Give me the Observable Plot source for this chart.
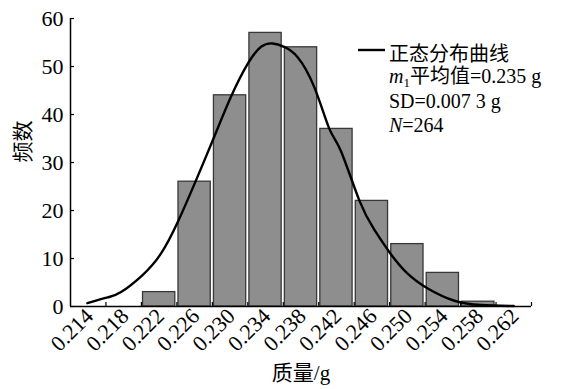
<!DOCTYPE html>
<html><head><meta charset="utf-8">
<script src="https://cdn.jsdelivr.net/npm/d3@7"></script>
<script src="https://cdn.jsdelivr.net/npm/@observablehq/plot@0.6"></script>
<style>
html,body{margin:0;padding:0;background:#fff}
#chart{width:561px;height:389px}
</style>
</head><body><div id="chart"></div>
<script>
// ---- data ----
const binStarts = [0.222, 0.226, 0.230, 0.234, 0.238, 0.242, 0.246, 0.250, 0.254, 0.258];
const binEnds   = [0.226, 0.230, 0.234, 0.238, 0.242, 0.246, 0.250, 0.254, 0.258, 0.262];
const counts    = [3, 26, 44, 57, 54, 37, 22, 13, 7, 1];

// normal distribution curve
const curveX = [0.2159, 0.2182, 0.2197, 0.2221, 0.2242, 0.2261, 0.2280, 0.2302, 0.2321, 0.2340, 0.2355, 0.2368, 0.2381, 0.2396, 0.2415, 0.2432, 0.2445, 0.2466, 0.2483, 0.2501, 0.2520, 0.2543, 0.2573, 0.2603, 0.2640];
const curveY = [0.7, 1.9, 3.0, 6.5, 11, 17.6, 25.6, 35.3, 43.7, 50.6, 54.1, 54.8, 54.1, 52, 45.7, 37, 32.4, 22, 15.9, 11, 6.9, 3.75, 1.2, 0.3, 0.1];

const xTickLabels = [0.214, 0.218, 0.222, 0.226, 0.230, 0.234, 0.238, 0.242, 0.246, 0.250, 0.254, 0.258, 0.262];
const xTickMarks  = [0.218, 0.222, 0.226, 0.230, 0.234, 0.238, 0.242, 0.246, 0.250, 0.254, 0.258, 0.262, 0.266];
const yTicks = [0, 10, 20, 30, 40, 50, 60];
const xDomain = [0.214, 0.266];
const yDomain = [0, 60];

const xTitle = "质量/g";
const yTitle = "频数";
const legendTitle = "正态分布曲线";
const meanSymbol = "m";
const meanSub = "1";
const meanText = "平均值=0.235 g";
const sdText = "SD=0.007 3 g";
const nSymbol = "N";
const nText = "=264";

// ---- build ----
const bars = counts.map((c, i) => ({x1: binStarts[i], x2: binEnds[i], count: c}));
const curve = curveX.map((x, i) => ({x, y: curveY[i]}));

const FONT = "'Liberation Serif', 'Times New Roman', 'Noto Sans CJK SC', serif";

const chart = Plot.plot({
  width: 561,
  height: 389,
  marginLeft: 70,
  marginRight: 30,
  marginTop: 18,
  marginBottom: 83,
  style: {fontFamily: FONT, fontSize: "20px", color: "black", background: "white", overflow: "visible"},
  x: {domain: xDomain},
  y: {domain: yDomain},
  marks: [
    Plot.rectY(bars, {x1: "x1", x2: "x2", y: "count", fill: "#8e8e8e", stroke: "#383838", strokeWidth: 1.3, insetLeft: 1.6, insetRight: 1.6}),
    Plot.ruleY([0], {stroke: "black", strokeWidth: 1.5}),
    Plot.ruleX([xDomain[0]], {stroke: "black", strokeWidth: 1.5}),
    Plot.axisX(xTickMarks, {tickSize: -4, fill: "none", label: null, strokeWidth: 1.2}),
    Plot.axisX(xTickLabels, {tickSize: 0, tickRotate: -45, tickPadding: 6, dx: 19, tickFormat: d3.format(".3f"), label: null, fontSize: 22}),
    Plot.axisY(yTicks, {tickSize: -4, fill: "none", label: null, strokeWidth: 1.2}),
    Plot.axisY(yTicks, {tickSize: 0, tickPadding: 7, label: null, fontSize: 22}),
    Plot.line(curve, {x: "x", y: "y", curve: "natural", stroke: "black", strokeWidth: 2.4}),
    Plot.text([xTitle], {frameAnchor: "bottom", dy: 67, fontSize: 21, lineAnchor: "middle"}),
    Plot.text([yTitle], {frameAnchor: "left", dx: -47, rotate: -90, fontSize: 21, lineAnchor: "middle"})
  ]
});

document.getElementById("chart").appendChild(chart);

// legend
const svg = d3.select(chart);
const lg = svg.append("g").attr("font-family", FONT).attr("font-size", 20).attr("fill", "black").attr("text-anchor", "start");
lg.append("line").attr("x1", 358).attr("x2", 385).attr("y1", 50).attr("y2", 50).attr("stroke", "black").attr("stroke-width", 2.4);
lg.append("text").attr("x", 389).attr("y", 61).text(legendTitle);
const t2 = lg.append("text").attr("x", 389).attr("y", 83);
t2.append("tspan").attr("font-style", "italic").text(meanSymbol);
t2.append("tspan").attr("font-size", 13).attr("dy", 4).text(meanSub);
t2.append("tspan").attr("dy", -4).text(meanText);
lg.append("text").attr("x", 389).attr("y", 108).text(sdText);
const t4 = lg.append("text").attr("x", 389).attr("y", 132);
t4.append("tspan").attr("font-style", "italic").text(nSymbol);
t4.append("tspan").text(nText);
</script>
</body></html>
